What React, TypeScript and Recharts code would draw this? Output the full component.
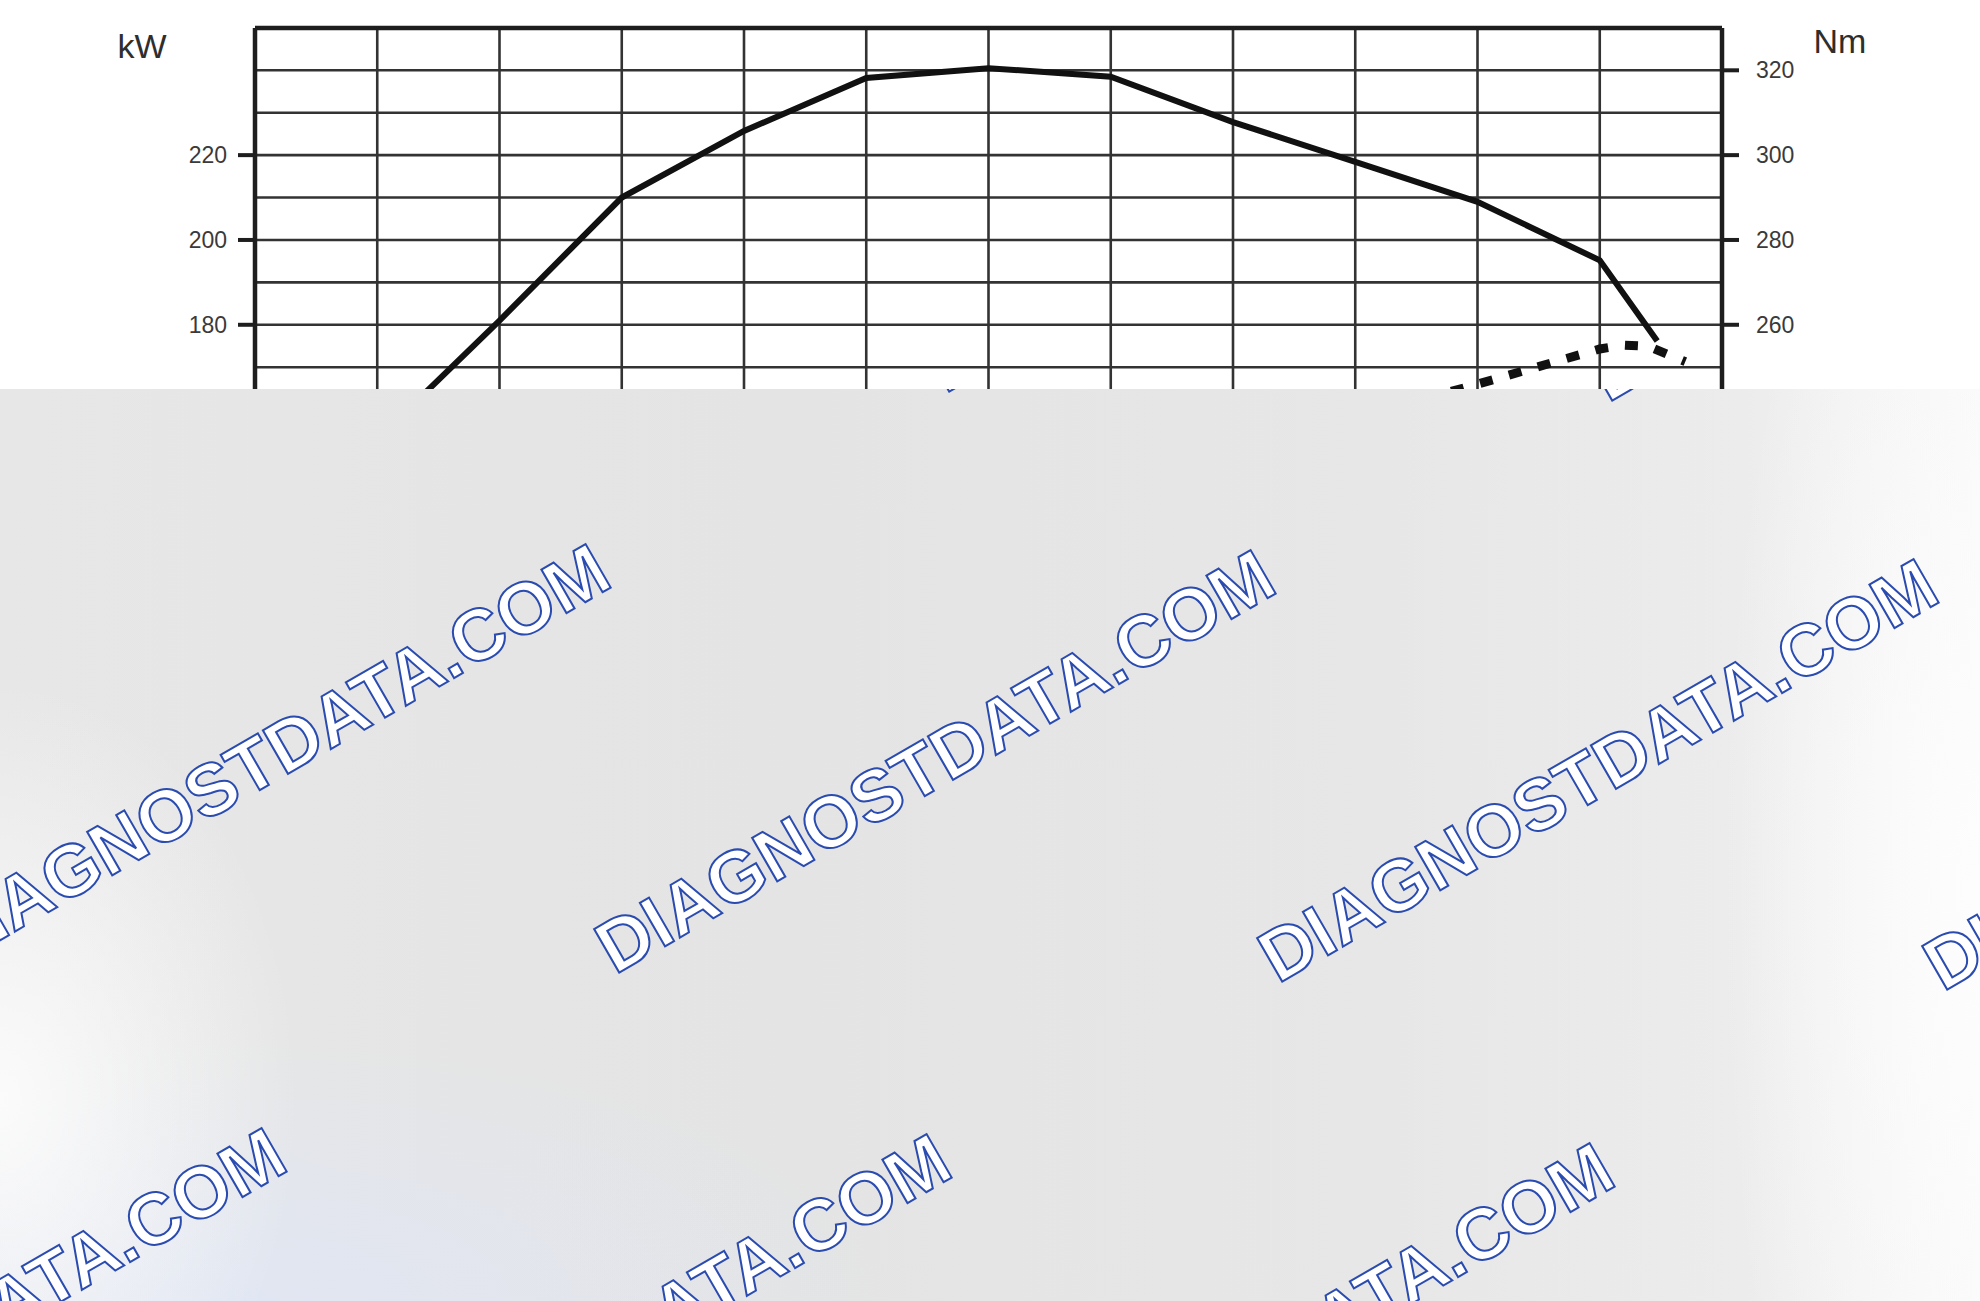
import React from 'react';
import { LineChart, Line, XAxis, YAxis, CartesianGrid, ReferenceLine, Label } from 'recharts';

// engine speed grid (rpm)
const rpmTicks = [1000, 1500, 2000, 2500, 3000, 3500, 4000, 4500, 5000, 5500, 6000, 6500, 7000];
// axis ticks
const kwTicks = [0, 20, 40, 60, 80, 100, 120, 140, 160, 180, 200, 220];
const nmTicks = [100, 120, 140, 160, 180, 200, 220, 240, 260, 280, 300, 320];
const kwGrid = [0, 10, 20, 30, 40, 50, 60, 70, 80, 90, 100, 110, 120, 130, 140, 150, 160, 170, 180, 190, 200, 210, 220, 230, 240, 250];

// torque curve (Nm) – solid
const torqueRpm = [1000, 1500, 2000, 2500, 3000, 3500, 4000, 4500, 5000, 5500, 6000, 6500, 6735];
const torqueNm = [200, 233, 261, 290, 305.7, 318.2, 320.5, 318.5, 307.8, 298.4, 289, 275.2, 256.2];

// power curve (kW) – dashed
const powerRpm = [1000, 1500, 2000, 2500, 3000, 3500, 4000, 4500, 5000, 5500, 6000, 6500, 6600, 6700, 6850];
const powerKw = [22, 37, 55, 76, 96, 113, 128, 140, 150, 158, 166, 174.3, 175.2, 174.9, 171.3];

const watermarkText = 'DIAGNOSTDATA.COM';
const watermarkX = [280, 945, 1608, -50, 615, 1278, 1943, -374, 291, 954, 1619];
const watermarkY = [388, 394, 403, 969, 975, 984, 992, 1553, 1559, 1568, 1576];

const torqueData = torqueRpm.map((rpm, i) => ({ rpm, nm: torqueNm[i] }));
const powerData = powerRpm.map((rpm, i) => ({ rpm, kw: powerKw[i] }));

const FONT = '"Liberation Sans", Arial, Helvetica, sans-serif';
const OVERLAY_TOP = 389;

function UnitLabel(props: any) {
  const { viewBox, value, side } = props;
  const vb = viewBox || { x: 0, y: 0, width: 0 };
  const cx = side === 'left' ? vb.x + vb.width - 113 : vb.x + 118;
  const by = side === 'left' ? vb.y + 30 : vb.y + 25;
  return (
    <text x={cx} y={by} textAnchor="middle" fontFamily={FONT} fontSize={34} fill="#2e2e2e">
      {value}
    </text>
  );
}

export default function App() {
  const tickStyle = { fontFamily: FONT, fontSize: 23, fill: '#3a3a3a' };
  return (
    <div style={{ position: 'absolute', left: 0, top: 0, width: 1980, height: 1301, overflow: 'hidden', background: '#ffffff' }}>
      <div style={{ position: 'absolute', left: 0, top: 0 }}>
        <LineChart width={1980} height={1160} margin={{ top: 27.9, right: 158, left: 155, bottom: 31.8 }}>
          <CartesianGrid
            yAxisId="kw"
            xAxisId="rpm"
            horizontalValues={kwGrid}
            verticalValues={rpmTicks}
            stroke="#333333"
            strokeWidth={2.6}
          />
          <XAxis
            xAxisId="rpm"
            dataKey="rpm"
            type="number"
            domain={[1000, 7000]}
            ticks={rpmTicks}
            height={40}
            allowDataOverflow
            tick={tickStyle}
            stroke="#222"
            strokeWidth={4}
          />
          <YAxis
            yAxisId="kw"
            orientation="left"
            width={100}
            domain={[0, 250]}
            ticks={kwTicks}
            tickSize={17}
            tickMargin={11}
            tick={tickStyle}
            axisLine={{ stroke: '#1e1e1e', strokeWidth: 4.5 }}
            tickLine={{ stroke: '#1e1e1e', strokeWidth: 4 }}
            allowDataOverflow
          >
            <Label value="kW" content={<UnitLabel side="left" />} />
          </YAxis>
          <YAxis
            yAxisId="nm"
            orientation="right"
            width={100}
            domain={[80, 330]}
            ticks={nmTicks}
            tickSize={17}
            tickMargin={17}
            tick={tickStyle}
            axisLine={{ stroke: '#1e1e1e', strokeWidth: 4.5 }}
            tickLine={{ stroke: '#1e1e1e', strokeWidth: 4 }}
            allowDataOverflow
          >
            <Label value="Nm" content={<UnitLabel side="right" />} />
          </YAxis>
          <ReferenceLine yAxisId="kw" xAxisId="rpm" y={250} stroke="#1e1e1e" strokeWidth={4.5} />
          <Line
            xAxisId="rpm"
            yAxisId="nm"
            data={torqueData}
            dataKey="nm"
            type="linear"
            stroke="#111111"
            strokeWidth={6}
            dot={false}
            activeDot={false}
            isAnimationActive={false}
          />
          <Line
            xAxisId="rpm"
            yAxisId="kw"
            data={powerData}
            dataKey="kw"
            type="linear"
            stroke="#111111"
            strokeWidth={9}
            strokeDasharray="13 17"
            dot={false}
            activeDot={false}
            isAnimationActive={false}
          />
        </LineChart>
      </div>
      <div
        style={{
          position: 'absolute',
          left: 0,
          top: OVERLAY_TOP,
          width: 1980,
          height: 1301 - OVERLAY_TOP,
          overflow: 'hidden',
          background:
            'radial-gradient(ellipse 300px 420px at 0% 78%, rgba(252,252,252,0.95), rgba(252,252,252,0) 100%),' +
            'radial-gradient(ellipse 650px 260px at 12% 100%, rgba(224,230,244,0.9), rgba(224,230,244,0) 100%),' +
            'radial-gradient(ellipse 260px 900px at 100% 55%, rgba(253,253,253,1), rgba(253,253,253,0) 100%),' +
            'linear-gradient(to right, #e7e7e7 0%, #e4e4e4 40%, #e7e7e7 70%, #ececec 88%, #f8f8f8 100%)',
        }}
      >
        <svg width={1980} height={1301 - OVERLAY_TOP} style={{ position: 'absolute', left: 0, top: 0 }}>
          {watermarkX.map((x, i) => (
            <text
              key={i}
              x={x}
              y={watermarkY[i] - OVERLAY_TOP}
              transform={`rotate(-30 ${x} ${watermarkY[i] - OVERLAY_TOP})`}
              fontFamily={FONT}
              fontWeight="bold"
              fontSize={73}
              fill="#ffffff"
              stroke="#2a4bb0"
              strokeWidth={2}
            >
              {watermarkText}
            </text>
          ))}
        </svg>
      </div>
    </div>
  );
}
